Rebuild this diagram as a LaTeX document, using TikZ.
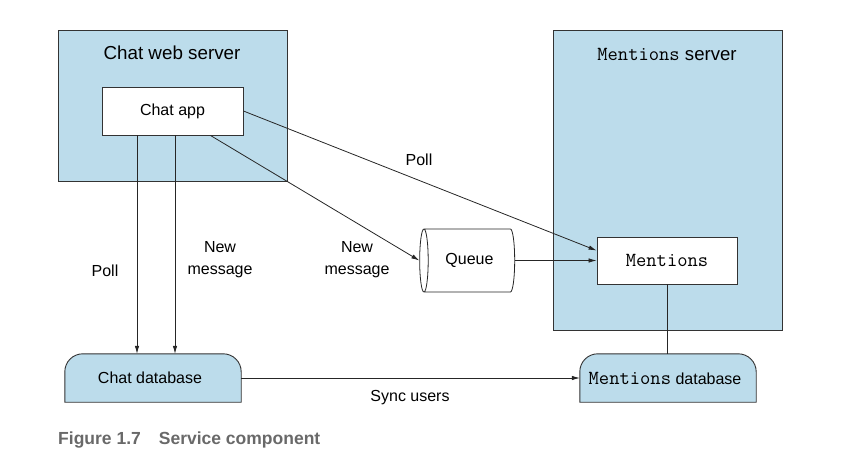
\documentclass[tikz,border=0pt]{standalone}
\usepackage{fontspec}
\setmainfont{Liberation Sans}
\usepackage{xcolor}
\usepackage{tikz}
\usetikzlibrary{arrows.meta,backgrounds,shapes.geometric}
\definecolor{srvblue}{RGB}{188,220,235}
\definecolor{capgray}{RGB}{105,105,105}
\newcommand{\mono}[1]{{\fontsize{20}{22}\selectfont\ttfamily #1}}
\tikzstyle{server}=[rectangle,draw=black!80,fill=srvblue,line width=0.9pt,inner sep=0pt]
\tikzstyle{comp}=[rectangle,draw=black!80,fill=white,line width=0.9pt,inner sep=0pt,font=\fontsize{16}{19}\selectfont]
\tikzstyle{queue}=[cylinder,shape border rotate=180,aspect=0.6,draw=black!85,fill=white,line width=0.8pt,inner sep=0pt,minimum width=63pt,minimum height=95pt,font=\fontsize{16}{19}\selectfont]
\tikzstyle{dbase}=[rectangle,inner sep=0pt,minimum width=176pt,minimum height=48pt,font=\fontsize{16}{19}\selectfont]
\tikzstyle{lbl}=[align=center,font=\fontsize{16}{22}\selectfont]
\tikzstyle{flow}=[-{Latex[length=8pt,width=4.5pt]},line width=0.8pt,draw=black!85]

\begin{document}
\begin{tikzpicture}[x=1pt,y=-1pt]
        \useasboundingbox (0,0) rectangle (850,474);
        \node at (172.5,105.5) [server,minimum width=229pt,minimum height=151pt] (CWS) {};
        \node at (667.5,180) [server,minimum width=229pt,minimum height=300pt] (MS) {};
        \node at (172,53) [font=\fontsize{18.8}{22}\selectfont] (CWStitle) {Chat web server};
        \node at (667,54) [font=\fontsize{18.6}{22}\selectfont] (MStitle) {\mono{Mentions} server};
        \node at (172.5,111) [comp,minimum width=141pt,minimum height=48pt] (app) {Chat app};
        \node at (667,260.5) [comp,minimum width=140pt,minimum height=47pt] (men) {\mono{Mentions}};
        \node at (469.5,260.5) [queue] (Q) {Queue};
        \node at (153,378) [dbase] (cdb) {\hspace*{-6pt}Chat database};
        \node at (668,378) [dbase] (mdb) {\hspace*{-6pt}\mono{Mentions} database};
        \begin{scope}[on background layer]
          \filldraw[fill=srvblue,draw=black!80,line width=0.9pt] (cdb.south west) [rounded corners=18pt] -- (cdb.north west) -- (cdb.north east) [sharp corners] -- (cdb.south east) -- cycle;
          \filldraw[fill=srvblue,draw=black!80,line width=0.9pt] (mdb.south west) [rounded corners=18pt] -- (mdb.north west) -- (mdb.north east) [sharp corners] -- (mdb.south east) -- cycle;
        \end{scope}
        % connectors
        \draw [flow] ([xshift=-35.5pt]app.south) -- ([xshift=-35.5pt]app.south |- cdb.north);
        \draw [flow] ([xshift=2.5pt]app.south) -- ([xshift=2.5pt]app.south |- cdb.north);
        \draw [flow] ([xshift=-33pt]app.south east) -- (Q.west);
        \draw [flow] (app.east) -- ([yshift=10pt]men.west);
        \draw [flow] (Q.east) -- (men.west);
        \draw [line width=0.8pt,draw=black!85] (men.south) -- (men.south |- mdb.north);
        \draw [flow] (cdb.east) -- (mdb.west);
        % labels
        \node at (105,271) [lbl] (Lpoll) {Poll};
        \node at (220,260) [lbl] (Lnew) {New\\message};
        \node at (357,260) [lbl] (Lnewq) {New\\message};
        \node at (419,160) [lbl] (Lpollm) {Poll};
        \node at (410,398) [lbl] (Lsync) {Sync users};
        \node at (58,440) [anchor=west,inner sep=0pt,text=capgray,font=\fontsize{17.5}{19}\selectfont\bfseries] (cap) {Figure 1.7\hspace{18pt}Service component};
      \end{tikzpicture}
\end{document}
